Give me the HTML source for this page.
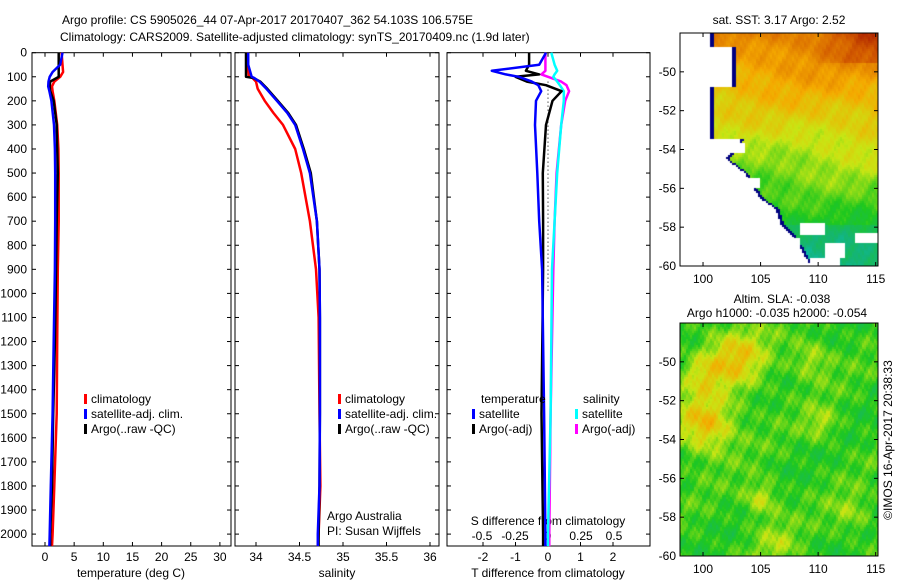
<!DOCTYPE html>
<html><head><meta charset="utf-8"><style>
body{margin:0;background:#fff;width:900px;height:580px;overflow:hidden;position:relative}
svg{position:absolute;left:0;top:0}
text{font-family:"Liberation Sans",sans-serif;font-size:12px;fill:#000}
canvas{position:absolute}
</style></head><body>
<canvas id="map1" width="198" height="233" style="left:680px;top:33px"></canvas>
<canvas id="map2" width="198" height="233" style="left:680px;top:323px"></canvas>
<svg id="chart" width="900" height="580"></svg>
<script>
// ---- data ----
const tDepth=[0,50,80,100,120,140,160,200,300,400,500,700,900,1200,1500,1800,2000,2050];
const tClim=[2.85,3.0,3.1,2.6,1.6,1.2,1.3,1.6,2.1,2.3,2.35,2.35,2.2,2.1,2.0,1.6,1.3,1.2];
const tSat=[3.0,2.6,1.3,0.8,0.6,0.55,0.75,1.1,1.55,1.7,1.75,1.75,1.7,1.5,1.3,1.0,0.8,0.75];
const tArgo=[2.35,2.35,2.35,2.35,0.9,0.8,0.9,1.5,2.0,2.1,2.2,2.0,1.9,1.7,1.4,1.2,0.9,0.9];
const sDepth=[0,50,100,105,120,150,200,250,300,400,500,700,900,1100,1500,1800,2000,2050];
const sClim=[33.9,33.9,33.92,33.96,34.0,34.02,34.10,34.2,34.31,34.45,34.52,34.62,34.69,34.72,34.73,34.74,34.72,34.71];
const sSat=[33.91,33.91,33.95,33.98,34.04,34.12,34.24,34.36,34.45,34.54,34.62,34.70,34.73,34.735,34.735,34.73,34.71,34.71];
const sArgo=[33.885,33.885,33.885,33.97,34.05,34.13,34.25,34.37,34.46,34.55,34.63,34.70,34.73,34.735,34.735,34.73,34.72,34.72];
const dDepth=[0,50,75,90,100,120,135,160,200,300,500,700,900,1500,2000,2050];
const dTSat=[-0.06,-0.27,-1.73,-1.3,-0.9,-0.5,-0.3,-0.21,-0.37,-0.4,-0.33,-0.27,-0.18,-0.12,-0.08,-0.08];
const dTArgo=[-0.58,-0.58,-0.68,-0.27,-1.0,-0.65,-0.06,0.42,0.14,-0.06,-0.16,-0.15,-0.15,-0.2,-0.15,-0.15];
const dSSat=[0.025,0.05,0.07,0.05,0.04,0.07,0.09,0.12,0.12,0.10,0.07,0.05,0.03,0.02,0.0,0.0];
const dSArgo=[-0.02,-0.02,-0.02,-0.05,0.0,0.1,0.14,0.16,0.13,0.10,0.065,0.05,0.04,0.02,0.01,0.01];
const depthTicks=[0,100,200,300,400,500,600,700,800,900,1000,1100,1200,1300,1400,1500,1600,1700,1800,1900,2000];
const tTicks=[0,5,10,15,20,25,30];
const sTicks=[34,34.5,35,35.5,36];
const sTickLabels=["34","34.5","35","35.5","36"];
const dtTicks=[-2,-1,0,1,2];
const dsTicks=[-0.5,-0.25,0,0.25,0.5];
const latTicks=[-50,-52,-54,-56,-58,-60];
const lonTicks=[100,105,110,115];

const svg=document.getElementById('chart');
const NS='http://www.w3.org/2000/svg';
function el(tag,attrs,txt){const e=document.createElementNS(NS,tag);for(const k in attrs)e.setAttribute(k,attrs[k]);if(txt!==undefined)e.textContent=txt;svg.appendChild(e);return e;}
const TOP=52.7,BOT=546;
const yD=d=>TOP+0.2407*d;
const xT=t=>45+5.83*t;
const xS=s=>256+87*(s-34);
const xDT=t=>548+32.5*t;
const xDS=s=>548+132*s;
const panels=[[32,231],[235,439],[447,650]];

let t=el('text',{x:62,y:24,'font-size':13});t.textContent='Argo profile: CS 5905026_44 07-Apr-2017 20170407_362 54.103S 106.575E';

t=el('text',{x:60,y:41,'font-size':13});t.textContent='Climatology: CARS2009. Satellite-adjusted climatology: synTS_20170409.nc (1.9d later)';


panels.forEach((p,i)=>{
  const r=el('rect',{x:p[0],y:TOP,width:p[1]-p[0],height:BOT-TOP,fill:'none',stroke:'#000','stroke-width':1});
  
  
  depthTicks.forEach(d=>{const y=yD(d);el('line',{x1:p[0],x2:p[0]+4,y1:y,y2:y,stroke:'#000'});el('line',{x1:p[1]-4,x2:p[1],y1:y,y2:y,stroke:'#000'});});
});
depthTicks.forEach(d=>{const e=el('text',{x:27,y:yD(d)+4,'text-anchor':'end'},d);
  
  });
function xticks(vals,fx,labels,p,y){vals.forEach((v,i)=>{const x=fx(v);
  el('line',{x1:x,x2:x,y1:TOP,y2:TOP+4,stroke:'#000'});el('line',{x1:x,x2:x,y1:BOT-4,y2:BOT,stroke:'#000'});
  if(labels){const e=el('text',{x:x,y:y,'text-anchor':'middle'},labels[i]);
  
  }});}
xticks(tTicks,xT,tTicks,panels[0],561);
xticks(sTicks,xS,sTickLabels,panels[1],561);
xticks(dtTicks,xDT,dtTicks,panels[2],561);
dsTicks.forEach(v=>{const e=el('text',{x:xDS(v),y:540,'text-anchor':'middle'},v);
  
  });
[['temperature (deg C)',131,'x-axis-title-temperature'],['salinity',337,'x-axis-title-salinity'],['T difference from climatology',548,'x-axis-title-t-diff']].forEach(a=>{
  const e=el('text',{x:a[1],y:577,'text-anchor':'middle'},a[0]);
  
  });
t=el('text',{x:548,y:525,'text-anchor':'middle'},'S difference from climatology');

const z=el('line',{x1:xDT(0),x2:xDT(0),y1:yD(120),y2:yD(1000),stroke:'#000','stroke-dasharray':'1,3'});


function line(depths,vals,fx,color,name){
  const pts=depths.map((d,i)=>fx(vals[i]).toFixed(1)+','+yD(d).toFixed(1)).join(' ');
  const e=el('polyline',{points:pts,fill:'none',stroke:color,'stroke-width':2.5,'stroke-linejoin':'round'});
  
  }
line(tDepth,tClim,xT,'#f00','temp-climatology-line');
line(tDepth,tArgo,xT,'#000','temp-argo-line');
line(tDepth,tSat,xT,'#00f','temp-satellite-line');
line(sDepth,sClim,xS,'#f00','sal-climatology-line');
line(sDepth,sArgo,xS,'#000','sal-argo-line');
line(sDepth,sSat,xS,'#00f','sal-satellite-line');
line(dDepth,dSArgo,xDS,'#f0f','sdiff-argo-line');
line(dDepth,dSSat,xDS,'#0ff','sdiff-satellite-line');
line(dDepth,dTArgo,xDT,'#000','tdiff-argo-line');
line(dDepth,dTSat,xDT,'#00f','tdiff-satellite-line');

function legend(x,y,color,label,name){
  const r=el('rect',{x:x,y:y-9,width:3,height:10,fill:color});
  
  
  const e=el('text',{x:x+7,y:y},label);
  
  }
[[0,'#f00','climatology'],[1,'#00f','satellite-adj. clim.'],[2,'#000','Argo(..raw -QC)']].forEach(a=>{
  legend(84,403+a[0]*15,a[1],a[2],'legend-entry-t');legend(338,403+a[0]*15,a[1],a[2],'legend-entry-s');});
t=el('text',{x:481,y:403},'temperature');
t=el('text',{x:583,y:403},'salinity');
legend(472,418,'#00f','satellite','legend-entry-tdiff');legend(472,433,'#000','Argo(-adj)','legend-entry-tdiff');
legend(575,418,'#0ff','satellite','legend-entry-sdiff');legend(575,433,'#f0f','Argo(-adj)','legend-entry-sdiff');
t=el('text',{x:327,y:520},'Argo Australia');
t=el('text',{x:327,y:535},'PI: Susan Wijffels');

function mapAxes(top,name){
  const r=el('rect',{x:680,y:top,width:198,height:233,fill:'none',stroke:'#000'});
  
  
  latTicks.forEach(l=>{
    const yy=top+(-48-l)/12*233;
    el('line',{x1:680,x2:684,y1:yy,y2:yy,stroke:'#000'});el('line',{x1:874,x2:878,y1:yy,y2:yy,stroke:'#000'});
    const e=el('text',{x:676,y:yy+4,'text-anchor':'end'},l);
    
    });
  lonTicks.forEach(l=>{const x=680+(l-98)/17.2*198;
    el('line',{x1:x,x2:x,y1:top+229,y2:top+233,stroke:'#000'});el('line',{x1:x,x2:x,y1:top,y2:top+4,stroke:'#000'});
    const e=el('text',{x:x,y:top+250,'text-anchor':'middle'},l);
    
    });
}
mapAxes(33,'sst-map');mapAxes(323,'sla-map');
t=el('text',{x:779,y:24,'text-anchor':'middle'},'sat. SST: 3.17 Argo: 2.52');
t=el('text',{x:782,y:303,'text-anchor':'middle'},'Altim. SLA: -0.038');
t=el('text',{x:777,y:317,'text-anchor':'middle'},'Argo h1000: -0.035 h2000: -0.054');
t=el('text',{x:892,y:440,'text-anchor':'middle',transform:'rotate(-90 892 440)'},'©IMOS 16-Apr-2017 20:38:33');

// map imagery
function jet(v){v=Math.max(0,Math.min(1,v));
  const stops=[[0,[0,0,140]],[0.2,[0,80,255]],[0.35,[0,200,230]],[0.45,[20,180,120]],[0.55,[30,200,30]],[0.65,[200,230,20]],[0.75,[245,170,0]],[0.87,[210,90,0]],[1,[150,0,0]]];
  for(let i=1;i<stops.length;i++){if(v<=stops[i][0]){const a=stops[i-1],b=stops[i],f=(v-a[0])/(b[0]-a[0]);return a[1].map((c,k)=>Math.round(c+(b[1][k]-c)*f));}}return stops[stops.length-1][1];}
function noise(x,y){return Math.sin(x*0.213+y*0.131)*0.4+Math.sin(x*0.071-y*0.193+1.3)*0.4+Math.sin(x*0.517+y*0.317+2.1)*0.3+Math.sin(x*0.93-y*0.71)*0.2+Math.sin(x*0.037+y*0.053+0.7)*0.4+Math.sin(x*1.7+y*0.4)*0.15;}
const c1=document.getElementById('map1').getContext('2d');
const bnd=[[0,30],[12,30],[13,52],[53,52],[54,30],[105,30],[106,60],[115,55],[125,45],[140,65],[150,70],[165,80],[175,95],[190,100],[200,110],[215,120],[233,130]];
function boundary(y){for(let i=1;i<bnd.length;i++){if(y<=bnd[i][0]){const a=bnd[i-1],b=bnd[i];return a[1]+(b[1]-a[1])*(y-a[0])/(b[0]-a[0]);}}return 130;}
c1.fillStyle='#fff';c1.fillRect(0,0,198,233);
for(let y=0;y<233;y+=2)for(let x=0;x<198;x+=2){
  const bx=boundary(y);
  if(x<bx)continue;
  if(x<bx+3){c1.fillStyle='#000080';c1.fillRect(x,y,2,2);continue;}
  let v=0.80-(y/233)*0.36+(x/198)*0.04+noise(x,y)*0.03;
  if(y<30&&x>130)v+=0.08*(x-130)/68;
  if(y>190)v-=0.04;
  const c=jet(v);c1.fillStyle='rgb('+c+')';c1.fillRect(x,y,2,2);}
c1.fillStyle='#fff';[[120,190,25,12],[100,205,20,20],[145,210,20,15],[175,200,23,10],[60,145,20,10],[45,110,20,10],[130,225,30,8]].forEach(r=>c1.fillRect(r[0],r[1],r[2],r[3]));
const c2=document.getElementById('map2').getContext('2d');
for(let y=0;y<233;y+=2)for(let x=0;x<198;x+=2){
  let v=0.56+noise(x*1.3+40,y*1.1+17)*0.045;
  const blobs=[[25,100,20,0.17],[55,35,22,0.14],[20,50,14,0.08],[80,175,12,0.1],[130,35,14,0.08],[140,100,12,0.07],[95,220,15,0.06],[170,190,14,0.06]];
  blobs.forEach(b=>{const d=Math.hypot(x-b[0],y-b[1]);v+=b[3]*Math.exp(-d*d/(2*b[2]*b[2]));});
  const c=jet(v);c2.fillStyle='rgb('+c+')';c2.fillRect(x,y,2,2);}
</script>
</body></html>
